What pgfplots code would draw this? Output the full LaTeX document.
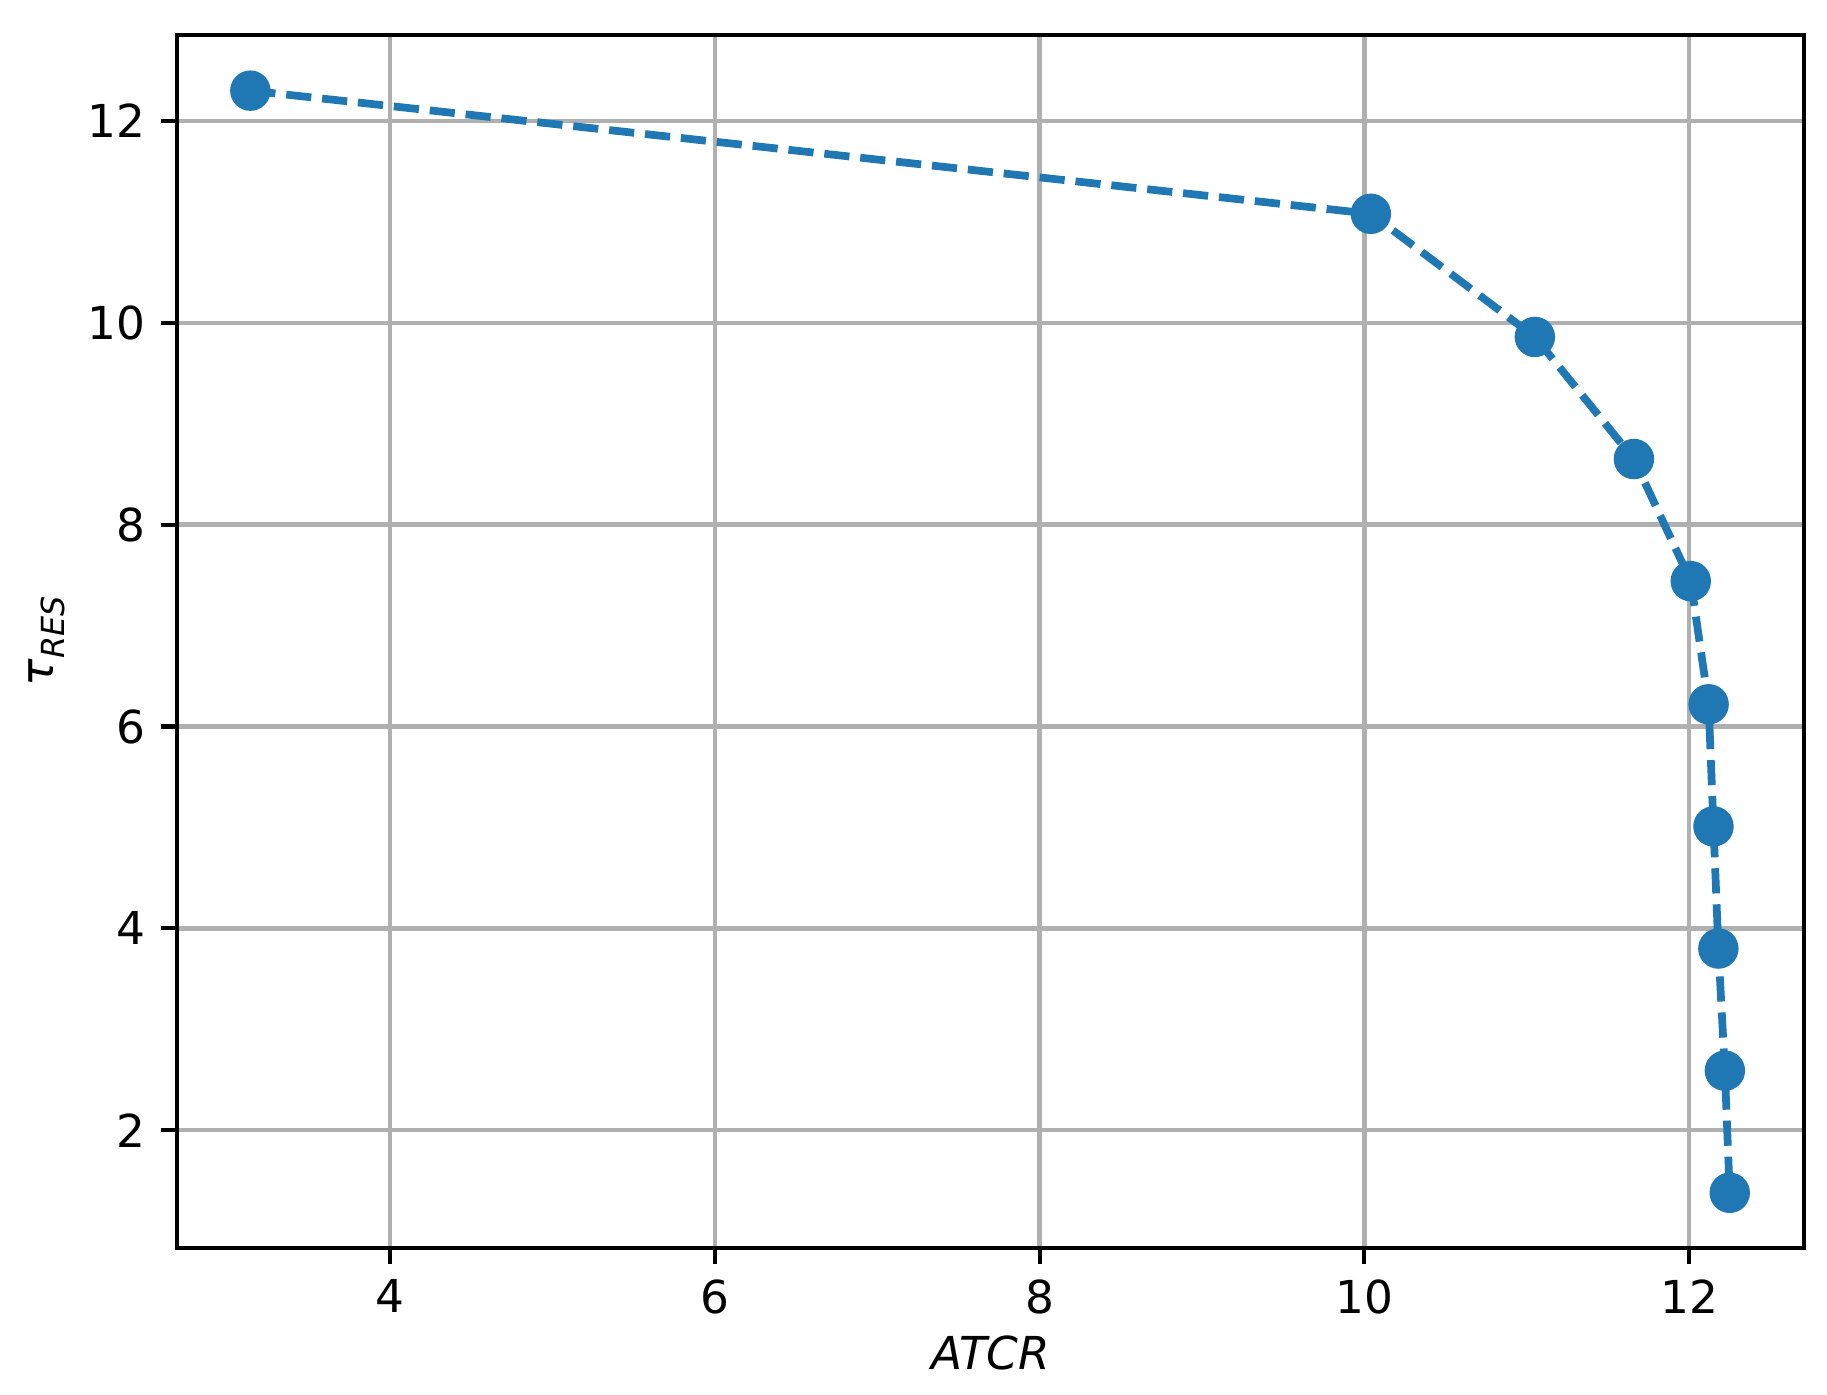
\documentclass[border={3pt 2pt 4.5pt 7.2pt}]{standalone}
\usepackage{fontspec}
\setmainfont{DejaVu Sans}
\usepackage{pgfplots}
\pgfplotsset{compat=1.18}

\definecolor{tabblue}{HTML}{1F77B4}
\definecolor{gridgray}{HTML}{B0B0B0}

\begin{document}
\fontsize{10}{12}\selectfont
\begin{tikzpicture}
\begin{axis}[
  scale only axis,
  width=12.6cm, height=9.39cm,
  xmin=2.688, xmax=12.71,
  ymin=0.836, ymax=12.853,
  xtick={4,6,8,10,12},
  ytick={2,4,6,8,10,12},
  /pgf/number format/assume math mode=true,
  tick label style={font=\fontsize{10}{12}\selectfont},
  label style={font=\fontsize{10}{12}\selectfont},
  axis line style={line width=0.9pt},
  tick style={line width=0.9pt, black},
  tick align=outside,
  major tick length=3.5pt,
  xtick pos=bottom, ytick pos=left,
  grid=major,
  major grid style={gridgray, line width=0.95pt},
  xlabel={\textit{ATCR}},
  ylabel={\textit{τ}\raisebox{-0.45ex}{\fontsize{7}{8}\selectfont\textit{RES}}},
  xlabel style={yshift=2pt},
  ylabel style={yshift=-2pt},
]
\addplot[tabblue, line width=1.7pt, dash pattern=on 5.55pt off 2.4pt,
  mark=*, mark size=3.6pt, mark options={solid, fill=tabblue, draw=tabblue}]
  coordinates {
  (3.14,12.30) (10.04,11.08) (11.05,9.86) (11.66,8.65) (12.01,7.44)
  (12.12,6.22) (12.15,5.01) (12.18,3.80) (12.22,2.59) (12.25,1.38)
};
\end{axis}
\end{tikzpicture}
\end{document}
